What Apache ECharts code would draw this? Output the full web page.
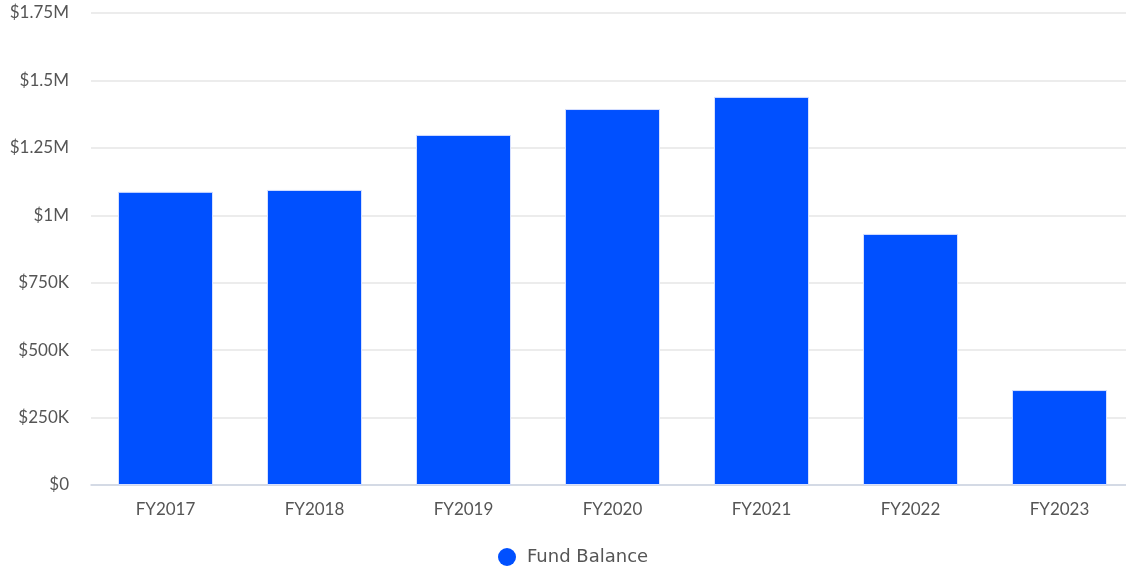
<!DOCTYPE html>
<html>
<head>
<meta charset="utf-8">
<script src="https://cdn.jsdelivr.net/npm/echarts@6/dist/echarts.min.js"></script>
<style>
  html, body { margin: 0; padding: 0; background: #fff; overflow: hidden; }
  #chart { width: 1140px; height: 571px; }
</style>
</head>
<body>
<div id="chart"></div>
<script>
const categories = ["FY2017", "FY2018", "FY2019", "FY2020", "FY2021", "FY2022", "FY2023"];
const fundBalance = [1087000, 1094000, 1298000, 1394000, 1439000, 931000, 352000];
const seriesName = "Fund Balance";

const chart = echarts.init(document.getElementById("chart"));

function money(v) {
  if (v === 0) return "$0";
  if (v >= 1000000) return "$" + (v / 1000000) + "M";
  return "$" + (v / 1000) + "K";
}

const font = "Lato, 'Open Sans', sans-serif";

chart.setOption({
  animation: false,
  textStyle: { fontFamily: font },
  grid: { left: 91, width: 1043, top: 13, height: 472 },
  legend: {
    top: 543,
    left: 493,
    icon: "circle",
    itemWidth: 18,
    itemHeight: 18,
    itemGap: 10,
    itemStyle: { borderWidth: 0 },
    textStyle: {
      fontSize: 18,
      color: "#555",
      fontFamily: "'DejaVu Sans', sans-serif",
      padding: [0, 0, 0, 6],
    },
    data: [seriesName],
  },
  xAxis: {
    type: "category",
    data: categories,
    axisTick: { show: false },
    axisLine: { lineStyle: { color: "#ccd3e2", width: 1.5 } },
    axisLabel: { fontSize: 17, color: "#555", margin: 16 },
  },
  yAxis: {
    type: "value",
    min: 0,
    max: 1750000,
    interval: 250000,
    axisLabel: { fontSize: 17, color: "#555", margin: 22, formatter: money },
    splitLine: { lineStyle: { color: "#e6e6e6", width: 1.5 } },
  },
  series: [
    {
      name: seriesName,
      type: "bar",
      data: fundBalance,
      barWidth: 95,
      itemStyle: { color: "#0050ff", borderColor: "#d6e0ff", borderWidth: 1 },
    },
  ],
});
</script>
</body>
</html>
